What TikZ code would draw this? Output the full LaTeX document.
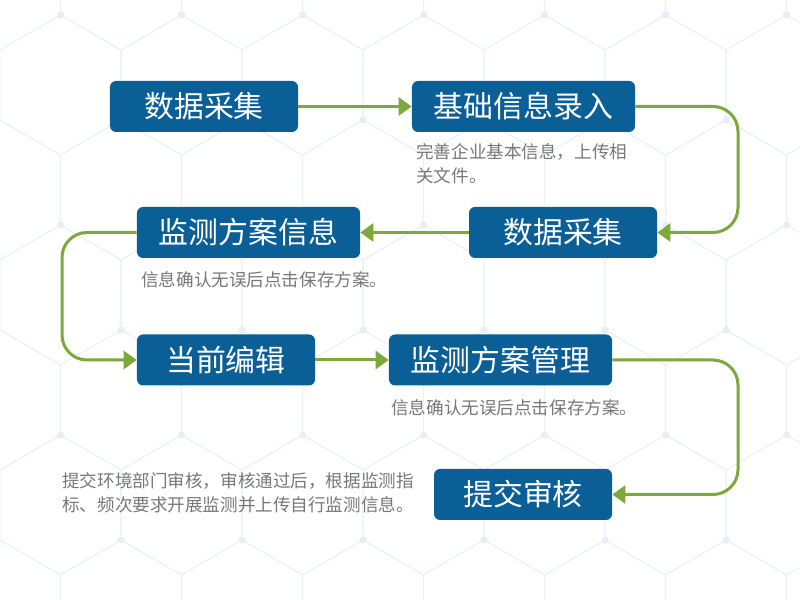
\documentclass[tikz,border=0pt]{standalone}
\usepackage{fontspec}
\setmainfont{Noto Sans CJK SC}
\usetikzlibrary{arrows.meta,positioning}
\definecolor{boxBlue}{HTML}{0B5F97}
\definecolor{flowGreen}{HTML}{7DA83A}
\definecolor{noteGray}{HTML}{777777}
\definecolor{hexLine}{HTML}{E8F1F8}
\definecolor{hexDot}{HTML}{E0EEF7}

\begin{document}
\begin{tikzpicture}[
  x=0.2mm, y=-0.2mm,
  stepbox/.style={fill=boxBlue, rounded corners=1.2mm, text=white, minimum height=10.2mm, minimum width=#1, inner sep=0pt, font=\fontsize{17}{20}\selectfont},
  flow/.style={-{Triangle[length=2.6mm,width=3.6mm]}, line width=0.6mm, color=flowGreen, rounded corners=5mm},
  note/.style={font=\fontsize{10}{13.6}\selectfont, text=noteGray, align=left, inner sep=0pt}
]
\useasboundingbox (0,0) rectangle (800,600);
% background pattern
\begin{scope}
\clip (0,0) rectangle (800,600);
\foreach \j in {0,...,7}{
  \foreach \i in {0,...,8}{
    \pgfmathsetmacro\cx{\i*121+mod(\j,2)*60.5}
    \pgfmathsetmacro\cy{\j*105-20}
    \draw[hexLine, line width=0.5pt] (\cx,\cy) +(90:70) -- +(30:70) -- +(-30:70) -- +(-90:70) -- +(-150:70) -- +(150:70) -- cycle;
    \fill[hexDot] (\cx,\cy) +(30:70) circle (3.5);
  }
}
\end{scope}
% steps
\node[stepbox=37.6mm] (collect)  at (204,106.5) {数据采集};
\node[stepbox=44.6mm] (basic)    at (523.5,106.5) {基础信息录入};
\node[stepbox=37.6mm] (collect2) at (563,232.5) {数据采集};
\node[stepbox=44.6mm] (plan)     at (248.5,232.5) {监测方案信息};
\node[stepbox=35.6mm] (edit)     at (226,360) {当前编辑};
\node[stepbox=44.6mm] (manage)   at (500.5,360) {监测方案管理};
\node[stepbox=35.6mm] (submit)   at (523,494.5) {提交审核};
% turning points
\coordinate (rside) at (738,0);
\coordinate (lside) at (62,0);
% connectors
\draw[flow] (collect) -- (basic);
\draw[flow] (basic.east) -- (basic.east -| rside) -- (collect2.east -| rside) -- (collect2.east);
\draw[flow] (collect2) -- (plan);
\draw[flow] (plan.west) -- (plan.west -| lside) -- (edit.west -| lside) -- (edit.west);
\draw[flow] (edit) -- (manage);
\draw[flow] (manage.east) -- (manage.east -| rside) -- (submit.east -| rside) -- (submit.east);
% notes
\node[note, anchor=north west] (basicnote) at (416,143) {完善企业基本信息，上传相\\关文件。};
\node[note, anchor=west] (plannote) at (141,280) {信息确认无误后点击保存方案。};
\node[note, anchor=west] (managenote) at (391,408) {信息确认无误后点击保存方案。};
\node[note, anchor=north west] (submitnote) at (62,472) {提交环境部门审核，审核通过后，根据监测指\\标、频次要求开展监测并上传自行监测信息。};
\end{tikzpicture}
\end{document}
